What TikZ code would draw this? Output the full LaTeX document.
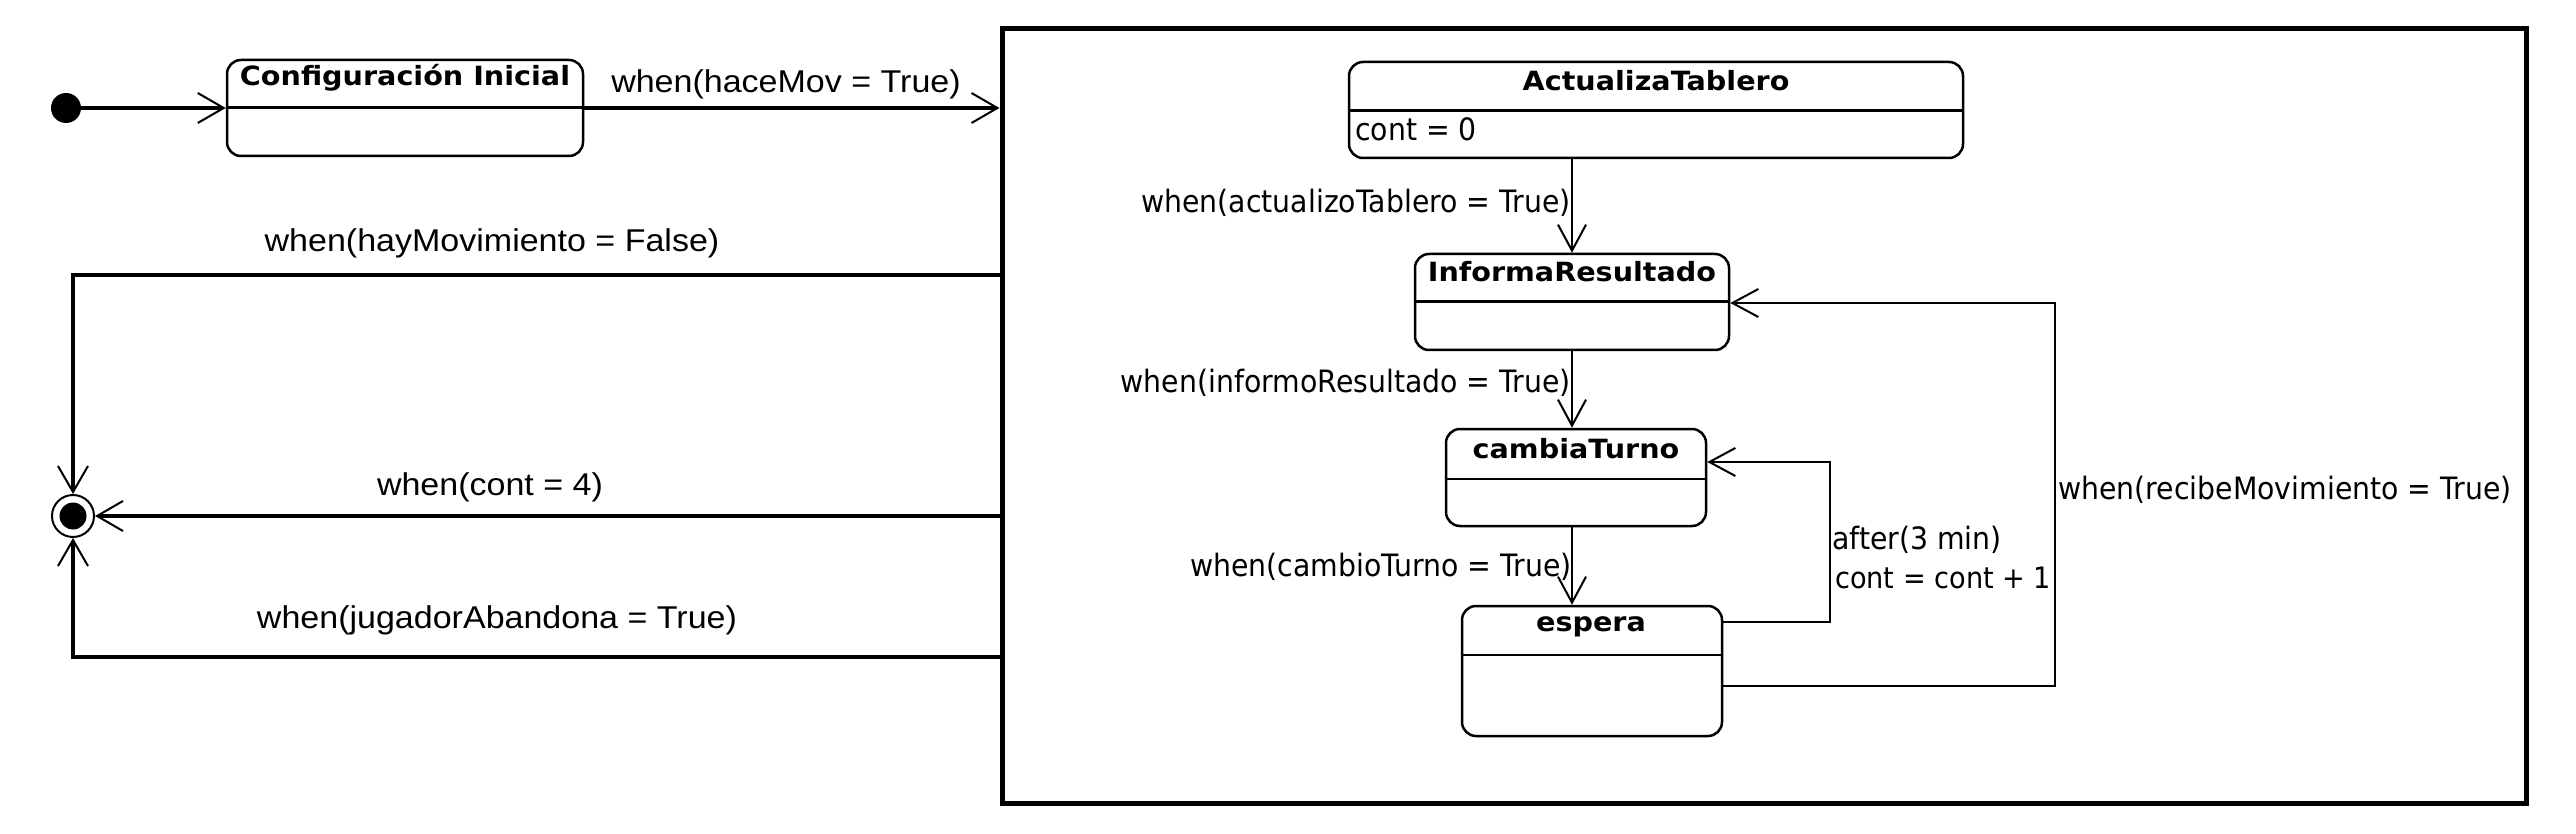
\documentclass[tikz,border=0pt]{standalone}
\usepackage{fontspec}
\setmainfont{DejaVu Sans}
\newfontfamily\outerfont[FakeStretch=1.08]{Liberation Sans}
\newfontfamily\innerfont[FakeStretch=0.92]{DejaVu Sans}
\newfontfamily\titlefont[FakeStretch=1.08]{DejaVu Sans}
\usetikzlibrary{arrows.meta,calc}
\begin{document}
\begin{tikzpicture}[x=1pt,y=-1pt,
  statebox/.style={draw, line width=2.5pt, rounded corners=14pt, inner sep=0pt, fill=white},
  divline/.style={line width=2.5pt},
  ttl/.style={font=\titlefont\bfseries\fontsize{26.5}{32}\selectfont, inner sep=0pt},
  ilab/.style={font=\innerfont\fontsize{30.8}{37}\selectfont, inner sep=0pt},
  olab/.style={font=\outerfont\fontsize{31.5}{38}\selectfont, inner sep=0pt},
  conn/.style={line width=2pt, -{Straight Barb[length=26pt,width=28pt,line width=2pt]}},
  oconn/.style={line width=3.5pt, -{Straight Barb[length=26pt,width=30pt,line width=2pt]}},
]
\useasboundingbox (0,0) rectangle (2576,834);

% composite frame
\node[draw, line width=5pt, minimum width=1524pt, minimum height=774pt, inner sep=0pt] (frame) at (1764,416) {};

% initial and final states
\node[circle, fill=black, minimum size=30pt, inner sep=0pt] (init) at (66,108) {};
\node[circle, draw, line width=2pt, minimum size=42pt, inner sep=0pt, fill=white] (fin) at (73,516) {};
\node[circle, fill=black, minimum size=27pt, inner sep=0pt] (finin) at (fin) {};

% Configuracion Inicial
\node[statebox, minimum width=356pt, minimum height=96pt] (ci) at (405,108) {};
\draw[divline] ($(ci.north west)+(0,49)$) -- ($(ci.north east)+(0,49)$);
\node[ttl] (ci-t) at (405,78) {Configuración Inicial};

% inner states
\node[statebox, minimum width=614pt, minimum height=96pt] (at) at (1656,110) {};
\draw[divline] ($(at.north west)+(0,50)$) -- ($(at.north east)+(0,50)$);
\node[ttl] (at-t) at (1656,81) {ActualizaTablero};
\node[ilab, anchor=west] (at-a) at (1355,129) {cont = 0};

\node[statebox, minimum width=314pt, minimum height=96pt] (ir) at (1572,302) {};
\draw[divline] ($(ir.north west)+(0,49)$) -- ($(ir.north east)+(0,49)$);
\node[ttl] (ir-t) at (1572,272) {InformaResultado};

\node[statebox, minimum width=260pt, minimum height=97pt] (ct) at (1576,477.5) {};
\draw[divline] ($(ct.north west)+(0,51)$) -- ($(ct.north east)+(0,51)$);
\node[ttl] (ct-t) at (1576,449) {cambiaTurno};

\node[statebox, minimum width=260pt, minimum height=130pt] (es) at (1592,671) {};
\draw[divline] ($(es.north west)+(0,50)$) -- ($(es.north east)+(0,50)$);
\node[ttl] (es-t) at (1591,627) {espera};

% bend points
\coordinate (k1) at (73,275);
\coordinate (k2) at (73,657);
\coordinate (lp1) at (1830,622);
\coordinate (lp2) at (1830,462);
\coordinate (bl1) at (2055,686);
\coordinate (bl2) at (2055,303);

% outer transitions
\draw[oconn] (init) -- (ci);
\draw[oconn] (ci.east) -- (ci.east -| frame.west);
\node[olab] (l-hace) at (786,84) {when(haceMov = True)};

\draw[oconn] (k1 -| frame.west) -- (k1) -- (fin.north);
\node[olab] (l-hay) at (492,243) {when(hayMovimiento = False)};

\draw[oconn] (fin -| frame.west) -- (fin.east);
\node[olab] (l-cont) at (490,487) {when(cont = 4)};

\draw[oconn] (k2 -| frame.west) -- (k2) -- (fin.south);
\node[olab] (l-jug) at (497,620) {when(jugadorAbandona = True)};

% inner transitions
\draw[conn] (ir.north |- at.south) -- (ir.north);
\node[ilab, anchor=east] (l-act) at (1571,203) {when(actualizoTablero = True)};

\draw[conn] (ir.south) -- (ir.south |- ct.north);
\node[ilab, anchor=east] (l-inf) at (1571,383) {when(informoResultado = True)};

\draw[conn] (ir.south |- ct.south) -- (ir.south |- es.north);
\node[ilab, anchor=east] (l-cam) at (1572,567) {when(cambioTurno = True)};

\draw[conn] (lp1 -| es.east) -- (lp1) -- (lp2) -- (lp2 -| ct.east);
\node[ilab, anchor=west] (l-after) at (1832,540) {after(3 min)};
\node[ilab, anchor=west, font=\innerfont\fontsize{29.5}{36}\selectfont] (l-inc) at (1835,578) {cont = cont + 1};

\draw[conn] (bl1 -| es.east) -- (bl1) -- (bl2) -- (bl2 -| ir.east);
\node[ilab, anchor=west] (l-rec) at (2058,490) {when(recibeMovimiento = True)};
\end{tikzpicture}
\end{document}
